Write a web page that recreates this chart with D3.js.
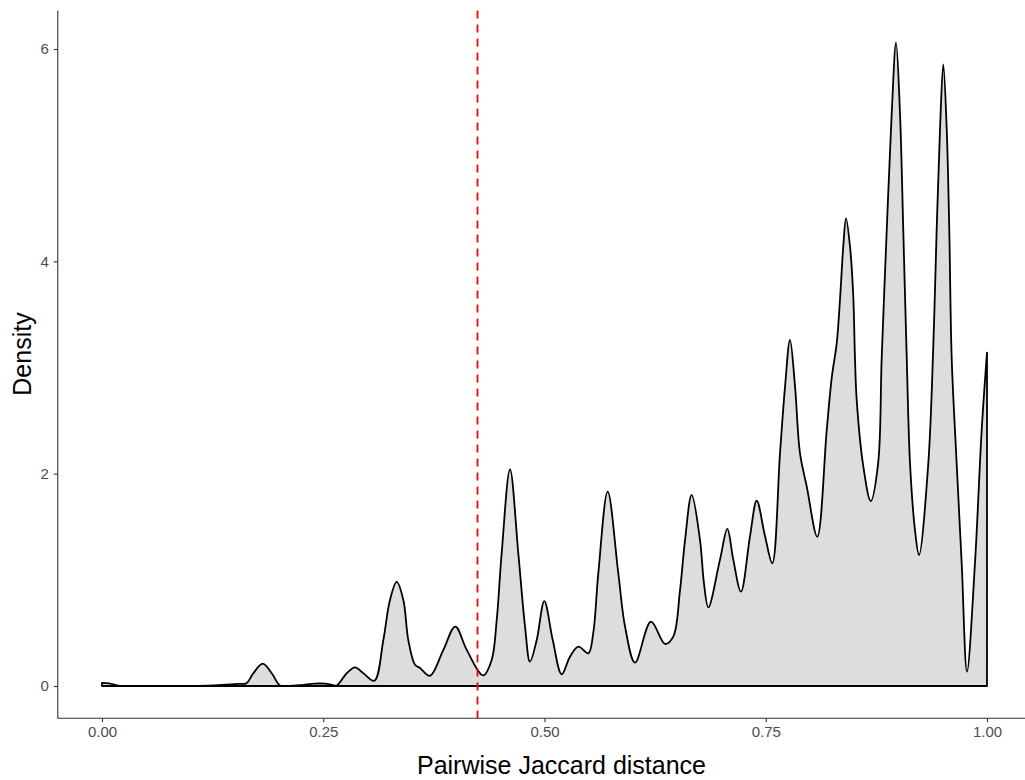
<!DOCTYPE html>
<html>
<head>
<meta charset="utf-8">
<script src="https://cdn.jsdelivr.net/npm/d3@7"></script>
<style>
  html, body { margin: 0; padding: 0; background: #ffffff; }
  svg { display: block; }
  text { font-family: "Liberation Sans", Arial, Helvetica, sans-serif; }
</style>
</head>
<body>
<svg id="chart" width="1025" height="780"></svg>
<script>
// Kernel density of pairwise Jaccard distances (x = distance, y = density)
const distance = [
  0.000, 0.008, 0.018, 0.030, 0.060, 0.090, 0.120, 0.140, 0.155, 0.163,
  0.171, 0.1816, 0.1918, 0.2011, 0.210, 0.225, 0.240, 0.252, 0.260, 0.2652,
  0.2765, 0.2859, 0.2953, 0.3077, 0.3179, 0.3254, 0.333, 0.3405, 0.3461, 0.3537,
  0.3593, 0.3706, 0.3857, 0.3992, 0.4121, 0.4308, 0.4403, 0.446, 0.4516, 0.461,
  0.4704, 0.478, 0.4836, 0.4912, 0.4998, 0.5093, 0.5194, 0.5288, 0.5382, 0.5495,
  0.5551, 0.5608, 0.5714, 0.5834, 0.591, 0.6023, 0.6203, 0.6362, 0.6455, 0.6531,
  0.6588, 0.6663, 0.6757, 0.6802, 0.6851, 0.6983, 0.7066, 0.7133, 0.722, 0.7322,
  0.7398, 0.7492, 0.7574, 0.7661, 0.7718, 0.7774, 0.7831, 0.7887, 0.7963, 0.8082,
  0.8189, 0.8245, 0.8302, 0.8339, 0.8376, 0.8407, 0.8452, 0.8489, 0.8508, 0.8528,
  0.8602, 0.8686, 0.877, 0.881, 0.8867, 0.8923, 0.8972, 0.9017, 0.9054, 0.9093,
  0.913, 0.9186, 0.9232, 0.9337, 0.9393, 0.9431, 0.9469, 0.9506, 0.9545, 0.9574,
  0.9601, 0.9657, 0.9714, 0.9774, 0.9864, 0.994, 1.000
];
const density = [
  0.030, 0.025, 0.004, 0.000, 0.001, 0.000, 0.003, 0.012, 0.020, 0.025,
  0.120, 0.210, 0.120, 0.005, 0.000, 0.008, 0.022, 0.022, 0.010, 0.004,
  0.120, 0.176, 0.120, 0.050, 0.433, 0.810, 0.980, 0.810, 0.433, 0.200,
  0.170, 0.097, 0.340, 0.560, 0.340, 0.100, 0.245, 0.620, 1.250, 2.040,
  1.250, 0.560, 0.230, 0.433, 0.800, 0.433, 0.110, 0.276, 0.370, 0.308,
  0.500, 1.060, 1.830, 1.060, 0.560, 0.220, 0.606, 0.396, 0.465, 0.900,
  1.375, 1.800, 1.375, 0.967, 0.740, 1.190, 1.480, 1.190, 0.888, 1.410,
  1.745, 1.410, 1.156, 2.190, 2.820, 3.260, 2.820, 2.190, 1.880, 1.406,
  2.410, 2.900, 3.230, 3.640, 4.140, 4.405, 4.140, 3.670, 3.090, 2.690,
  2.070, 1.742, 2.100, 3.090, 4.290, 5.390, 6.060, 5.390, 4.290, 3.090,
  2.100, 1.470, 1.234, 2.100, 3.200, 4.290, 5.240, 5.856, 5.240, 4.290,
  3.090, 2.100, 1.156, 0.135, 1.156, 2.410, 3.140
];
const xTicks = [0, 0.25, 0.5, 0.75, 1];
const xTickLabels = ["0.00", "0.25", "0.50", "0.75", "1.00"];
const yTicks = [0, 2, 4, 6];
const yTickLabels = ["0", "2", "4", "6"];
const cutoff = 0.4243;   // threshold distance marked by the dashed line

const xTitle = "Pairwise Jaccard distance";
const yTitle = "Density";

// ---- layout ----
const panel = { left: 57.75, top: 10.4, bottom: 718.2, right: 1065 };

const x = d3.scaleLinear().domain([0, 1]).range([102, 987]);
const y = d3.scaleLinear().domain([0, 6]).range([686, 49]);

const svg = d3.select("#chart");

const pts = distance.map((d, i) => [d, density[i]]);
const curve = d3.curveCatmullRom.alpha(0.5);

// filled area under the density curve
const area = d3.area()
  .x(d => x(d[0]))
  .y0(y(0))
  .y1(d => y(d[1]))
  .curve(curve);

svg.append("path")
  .datum(pts)
  .attr("d", area)
  .attr("fill", "#dddddd")
  .attr("stroke", "none");

// outline: curve plus closing edges along the baseline
const line = d3.line()
  .x(d => x(d[0]))
  .y(d => y(d[1]))
  .curve(curve);

const curvePath = line(pts);
const x0 = x(distance[0]), x1 = x(distance[distance.length - 1]);
svg.append("path")
  .attr("d", `M${x0},${y(0)}L${x0},${y(density[0])}` +
             curvePath.replace(/^M/, "L") +
             `L${x1},${y(0)}Z`)
  .attr("fill", "none")
  .attr("stroke", "#000")
  .attr("stroke-width", 1.8)
  .attr("stroke-linejoin", "round");

// dashed threshold line spanning the panel
svg.append("line")
  .attr("x1", x(cutoff)).attr("x2", x(cutoff))
  .attr("y1", panel.top).attr("y2", panel.bottom)
  .attr("stroke", "#ff0000")
  .attr("stroke-width", 1.8)
  .attr("stroke-dasharray", "8,6");

// ---- axes ----
const axisColor = "#333333";

const xAxis = svg.append("g")
  .attr("transform", `translate(0,${panel.bottom})`)
  .call(d3.axisBottom(x)
    .tickValues(xTicks)
    .tickFormat((d, i) => xTickLabels[i])
    .tickSize(4)
    .tickPadding(4));
xAxis.select(".domain").remove();
xAxis.append("line")
  .attr("x1", panel.left).attr("x2", panel.right)
  .attr("y1", 0).attr("y2", 0)
  .attr("stroke", axisColor).attr("stroke-width", 1.1);

const yAxis = svg.append("g")
  .attr("transform", `translate(${panel.left},0)`)
  .call(d3.axisLeft(y)
    .tickValues(yTicks)
    .tickFormat((d, i) => yTickLabels[i])
    .tickSize(4)
    .tickPadding(5));
yAxis.select(".domain").remove();
yAxis.append("line")
  .attr("x1", 0).attr("x2", 0)
  .attr("y1", panel.top).attr("y2", panel.bottom)
  .attr("stroke", axisColor).attr("stroke-width", 1.1);

svg.selectAll(".tick line").attr("stroke", axisColor).attr("stroke-width", 1.1);
svg.selectAll(".tick text")
  .attr("fill", "#4d4d4d")
  .style("font-size", "15px")
  .style("font-family", "'Liberation Sans', Arial, sans-serif");

// axis titles
svg.append("text")
  .attr("x", 561.5).attr("y", 774)
  .attr("text-anchor", "middle")
  .attr("fill", "#000")
  .style("font-size", "25px")
  .text(xTitle);

svg.append("text")
  .attr("transform", "translate(31,354) rotate(-90)")
  .attr("text-anchor", "middle")
  .attr("fill", "#000")
  .style("font-size", "25px")
  .text(yTitle);
</script>
</body>
</html>
